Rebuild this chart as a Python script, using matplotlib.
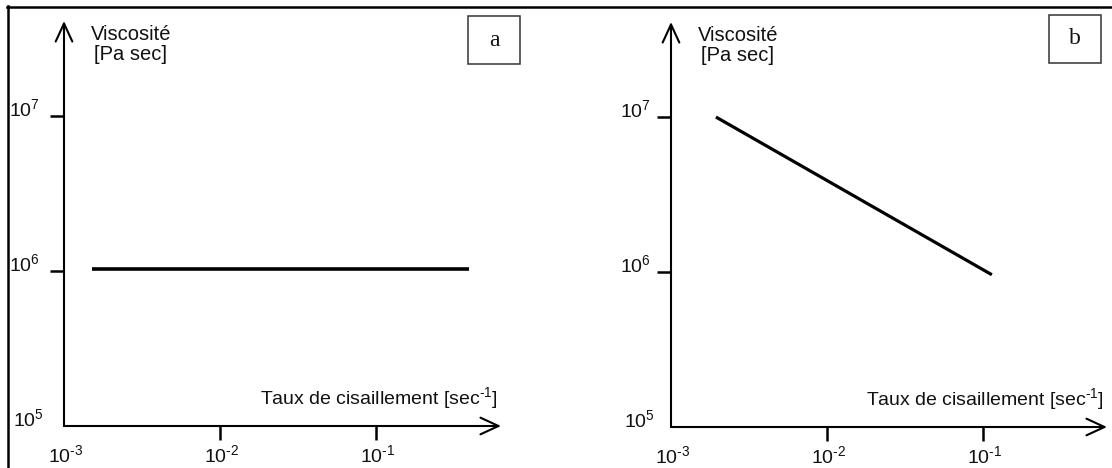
import matplotlib
matplotlib.use("Agg")
import matplotlib.pyplot as plt
from matplotlib.patches import Rectangle
from matplotlib.lines import Line2D

plt.rcParams['font.family'] = ['Liberation Sans', 'DejaVu Sans']
plt.rcParams['mathtext.fontset'] = 'custom'
plt.rcParams['mathtext.rm'] = 'Liberation Sans'
plt.rcParams['mathtext.it'] = 'Liberation Sans:italic'
plt.rcParams['mathtext.bf'] = 'Liberation Sans:bold'

# ---- data ----
panel_letters = ["a", "b"]
x_a = [1.51e-3, 0.394]
y_a = [1.03e6, 1.03e6]
x_b = [1.94e-3, 0.114]
y_b = [1.0e7, 9.6e5]
x_tick_vals = [1e-3, 1e-2, 1e-1]
x_tick_labels = [r"$10^{\text{-}3}$", r"$10^{\text{-}2}$", r"$10^{\text{-}1}$"]
y_tick_vals = [1e5, 1e6, 1e7]
y_tick_labels = [r"$10^{5}$", r"$10^{6}$", r"$10^{7}$"]
y_axis_label = "Viscosité\n[Pa sec]"
x_axis_label = r"Taux de cisaillement [sec$^{\text{-}1}$]"

W, H = 1112, 468
fig = plt.figure(figsize=(W / 100, H / 100), dpi=100)
fig.patch.set_facecolor("white")

def px_rect(x0, ytop, x1, ybot):
    return [x0 / W, (H - ybot) / H, (x1 - x0) / W, (ybot - ytop) / H]

panels = [
    dict(rect=px_rect(64, 21, 501, 426), xs=x_a, ys=y_a, lw=2.6, ylab_dx=-24,
         box=(468, 16, 520, 64), letter=panel_letters[0]),
    dict(rect=px_rect(671, 22, 1107, 427), xs=x_b, ys=y_b, lw=2.3, ylab_dx=-20,
         box=(1049, 15, 1101, 63), letter=panel_letters[1]),
]

dec_x = 156.0
dec_y = 155.0
TXT = "#111111"
for p in panels:
    ax = fig.add_axes(p["rect"])
    wpx = p["rect"][2] * W
    hpx = p["rect"][3] * H
    ax.set_xscale("log")
    ax.set_yscale("log")
    ax.set_xlim(1e-3, 10 ** (-3 + wpx / dec_x))
    ax.set_ylim(1e5, 10 ** (5 + hpx / dec_y))
    for s in ax.spines.values():
        s.set_visible(False)
    ax.set_xticks(x_tick_vals[1:])
    ax.set_yticks(y_tick_vals[1:])
    ax.minorticks_off()
    ax.set_xticklabels([])
    ax.set_yticklabels([])
    ax.tick_params(direction="out", length=10, width=1.8, color="black")
    ax.patch.set_visible(False)

    # axes arrows
    arrow = dict(arrowstyle="->,head_length=1.3,head_width=0.6", lw=1.5,
                 color="black", shrinkA=0, shrinkB=0)
    ax.annotate("", xy=(1, 0), xytext=(0, 0), xycoords="axes fraction",
                textcoords="axes fraction", arrowprops=arrow, annotation_clip=False)
    ax.annotate("", xy=(0, 1), xytext=(0, 0), xycoords="axes fraction",
                textcoords="axes fraction", arrowprops=arrow, annotation_clip=False)

    # data line
    ax.plot(p["xs"], p["ys"], color="black", lw=p["lw"], solid_capstyle="butt",
            clip_on=False)

    # tick labels
    for v, lab in zip(x_tick_vals, x_tick_labels):
        ax.annotate(lab, xy=(v, 1e5), xycoords="data", xytext=(1, -21),
                    textcoords="offset points", ha="center", va="center",
                    fontsize=14, color=TXT, annotation_clip=False)
    for v, lab in zip(y_tick_vals, y_tick_labels):
        dx = p["ylab_dx"] if v > 1e5 else p["ylab_dx"] + 4
        ax.annotate(lab, xy=(1e-3, v), xycoords="data",
                    xytext=(dx * 0.72, 5),
                    textcoords="offset points", ha="right", va="center",
                    fontsize=14, color=TXT, annotation_clip=False)

    # axis labels
    ax.annotate(y_axis_label, xy=(0, 1), xycoords="axes fraction",
                xytext=(48, -3), textcoords="offset points", ha="center",
                va="top", fontsize=14.5, color=TXT, linespacing=1.05,
                annotation_clip=False)
    ax.annotate(x_axis_label, xy=(1, 0), xycoords="axes fraction",
                xytext=(-2, 10.5), textcoords="offset points", ha="right",
                va="bottom", fontsize=14, color=TXT,
                annotation_clip=False)

    # letter box
    bx0, by0, bx1, by1 = p["box"]
    fig.add_artist(Rectangle((bx0 / W, (H - by1) / H), (bx1 - bx0) / W,
                             (by1 - by0) / H, transform=fig.transFigure,
                             fill=False, lw=1.1, ec="#333333"))
    fig.text((bx0 + bx1) / 2 / W, (H - (by0 + by1) / 2) / H, p["letter"],
             ha="center", va="center", fontsize=17,
             family=["Liberation Serif", "DejaVu Serif"], color=TXT)

# outer frame
fig.add_artist(Line2D([8 / W, 8 / W], [0, (H - 5.5) / H], transform=fig.transFigure,
                      color="black", lw=1.8))
fig.add_artist(Line2D([7.3 / W, 1.0], [(H - 6.7) / H, (H - 6.7) / H],
                      transform=fig.transFigure, color="black", lw=1.8))

fig.savefig("out.png", dpi=100, facecolor="white")
